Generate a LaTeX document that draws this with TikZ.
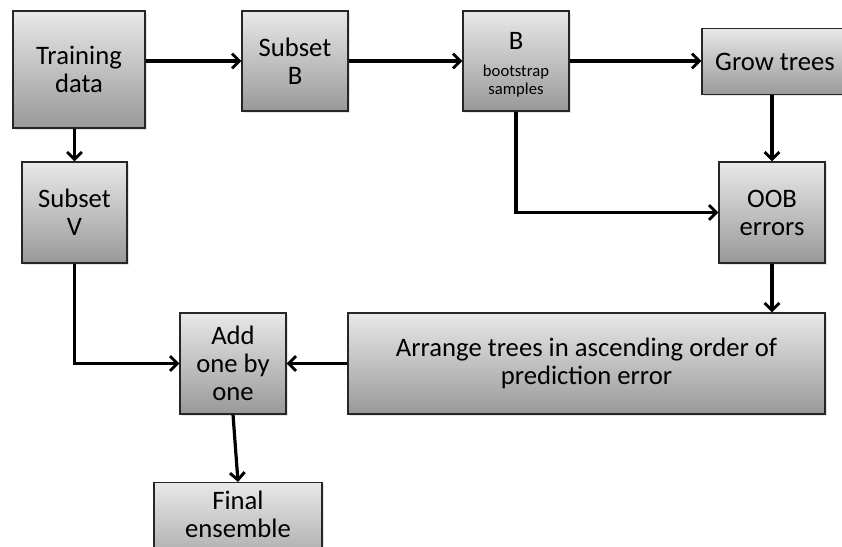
\documentclass[tikz,border=0pt]{standalone}
\usepackage{fontspec}
\setmainfont{Carlito}
\usetikzlibrary{arrows.meta, shadows}

\tikzset{
    stepbox/.style={draw=black!85, thick, top color=black!9, bottom color=black!40,
        align=center, inner sep=2pt,
        font=\fontsize{20}{21}\selectfont,
        drop shadow={opacity=0.2, shadow xshift=1.2pt, shadow yshift=-1.2pt}},
    flow/.style={line width=2.4pt, -{Straight Barb[length=5.5pt, width=11pt, line width=2.2pt]}}
}
\newcommand{\smalltxt}{\fontsize{12.5}{13}\selectfont}

\begin{document}
\begin{tikzpicture}[x=0.75pt, y=-0.75pt]
    % page frame (pixels of the reference)
    \clip (0,0) rectangle (842,546);
    \fill[white] (0,0) rectangle (842,546);

    % Top row
    \node[stepbox, minimum width=99pt, minimum height=87.75pt] (train) at (79,69.5) {Training\\data};
    \node[stepbox, minimum width=79.5pt, minimum height=75pt] (subB) at (295,61) {Subset\\B};
    \node[stepbox, minimum width=79.5pt, minimum height=75pt] (boot) at (516,61)
        {\rule{0pt}{19pt}B\\[-1pt]\smalltxt bootstrap\\[-7.5pt]\smalltxt samples};
    \node[stepbox, minimum width=109.5pt, minimum height=50pt] (grow) at (775,61.5) {Grow trees};

    % Middle row
    \node[stepbox, minimum width=78.75pt, minimum height=75.75pt] (subV) at (74.5,212.5) {Subset\\V};
    \node[stepbox, minimum width=79.5pt, minimum height=75.75pt] (oob) at (772,212.5) {OOB\\errors};

    % Bottom rows
    \node[stepbox, minimum width=79.5pt, minimum height=75.75pt] (add) at (233,363.5) {Add\\one by\\one};
    \node[stepbox, minimum width=357.75pt, minimum height=75.75pt] (arrange) at (586.5,363.5)
        {Arrange trees in ascending order of\\prediction error};
    \node[stepbox, minimum width=126pt, minimum height=75pt, anchor=north, text depth=28pt] (final) at (238,482) {Final\\ensemble};

    % Connectors
    \draw[flow] (subB.west -| train.east) -- (subB.west);
    \draw[flow] (subB) -- (boot);
    \draw[flow] (boot.east) -- (boot.east -| grow.west);
    \draw[flow] (train.south -| subV.north) -- (subV.north);
    \draw[flow] (boot.south) |- (oob.west);
    \draw[flow] (grow.south -| oob.north) -- (oob.north);
    \draw[flow] (oob.south) -- (oob.south |- arrange.north);
    \draw[flow] (arrange.west) -- (add.east);
    \draw[flow] (subV.south) |- (add.west);
    \draw[flow] (add.south) -- (final.north);
\end{tikzpicture}
\end{document}
